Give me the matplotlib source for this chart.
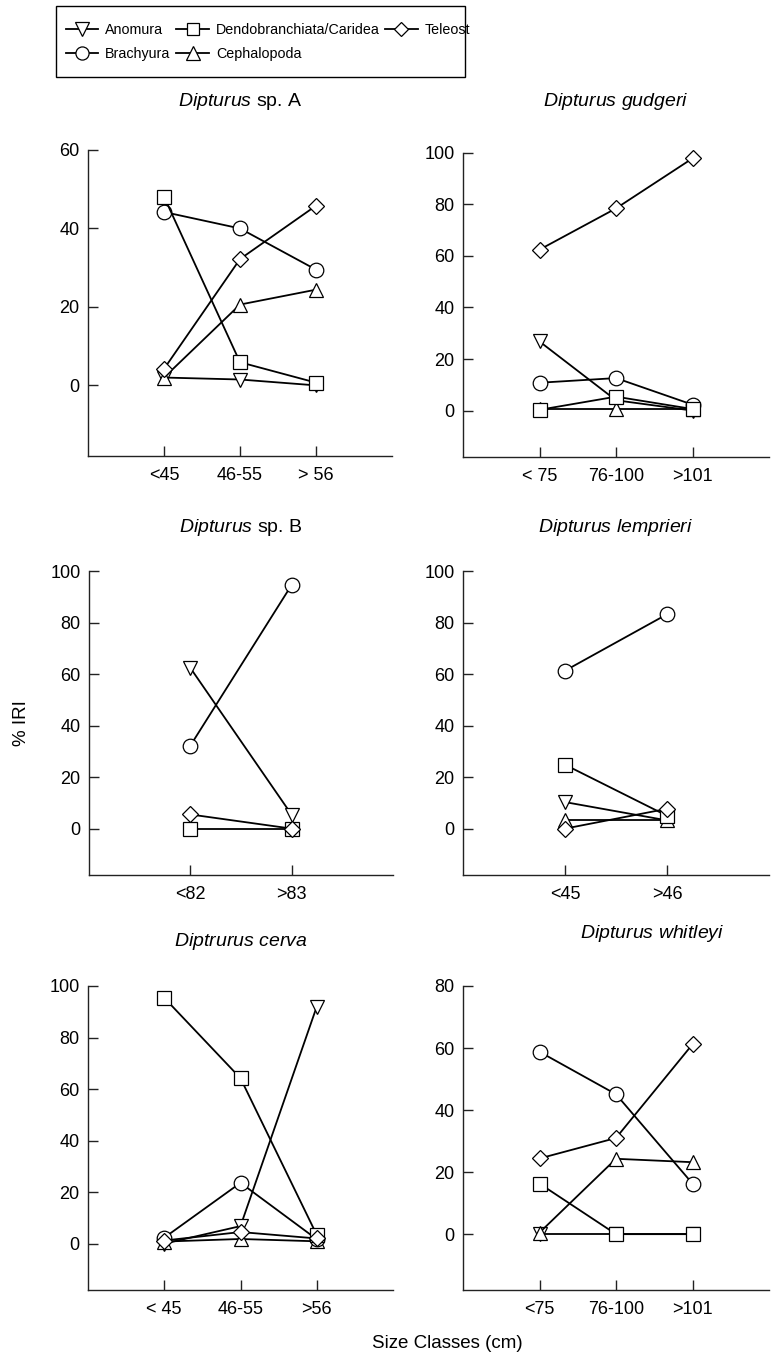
import matplotlib
matplotlib.use("Agg")
import matplotlib.pyplot as plt
from matplotlib.lines import Line2D
from matplotlib.patches import Rectangle
import numpy as np

plt.rcParams['font.family'] = ['Liberation Sans', 'DejaVu Sans']
plt.rcParams['mathtext.fontset'] = 'custom'
plt.rcParams['mathtext.it'] = 'Liberation Sans:italic'
plt.rcParams['mathtext.rm'] = 'Liberation Sans'

nan = np.nan

# ---- data ----
series_names = ["Anomura", "Brachyura", "Dendobranchiata/Caridea", "Cephalopoda", "Teleost"]

titles = [r"$\mathit{Dipturus}$ sp. A", r"$\mathit{Dipturus\ gudgeri}$",
          r"$\mathit{Dipturus}$ sp. B", r"$\mathit{Dipturus\ lemprieri}$",
          r"$\mathit{Diptrurus\ cerva}$", r"$\mathit{Dipturus\ whitleyi}$"]

classes_spA = ["<45", "46-55", "> 56"]
classes_gudgeri = ["< 75", "76-100", ">101"]
classes_spB = ["<82", ">83"]
classes_lemprieri = ["<45", ">46"]
classes_cerva = ["< 45", "46-55", ">56"]
classes_whitleyi = ["<75", "76-100", ">101"]

# values per panel: Anomura, Brachyura, Dendobranchiata/Caridea, Cephalopoda, Teleost
spA_anomura = [2.0, 1.5, 0.0]
spA_brachyura = [44.2, 40.0, 29.5]
spA_dendo = [48.1, 5.9, 0.7]
spA_cephalo = [2.0, 20.6, 24.4]
spA_teleost = [4.2, 32.2, 45.8]

gud_anomura = [26.8, 4.0, 0.0]
gud_brachyura = [10.8, 12.6, 2.3]
gud_dendo = [0.3, 5.4, 0.6]
gud_cephalo = [0.5, 0.5, 0.5]
gud_teleost = [62.4, 78.4, 97.8]

spB_anomura = [62.4, 5.4]
spB_brachyura = [32.2, 94.6]
spB_dendo = [0.0, 0.0]
spB_cephalo = [nan, nan]
spB_teleost = [5.5, 0.0]

lem_anomura = [10.3, 3.2]
lem_brachyura = [61.3, 83.2]
lem_dendo = [24.8, 5.0]
lem_cephalo = [3.2, 3.2]
lem_teleost = [0.0, 7.7]

cer_anomura = [0.0, 6.8, 92.0]
cer_brachyura = [2.3, 23.6, 1.7]
cer_dendo = [95.4, 64.2, 3.4]
cer_cephalo = [0.8, 1.8, 0.9]
cer_teleost = [1.2, 4.5, 2.0]

whi_anomura = [0.0, 0.0, 0.0]
whi_brachyura = [58.8, 45.1, 16.3]
whi_dendo = [16.3, 0.0, 0.0]
whi_cephalo = [0.5, 24.3, 23.2]
whi_teleost = [24.4, 31.0, 61.2]

panels = [
    (classes_spA, [spA_anomura, spA_brachyura, spA_dendo, spA_cephalo, spA_teleost], [0, 20, 40, 60]),
    (classes_gudgeri, [gud_anomura, gud_brachyura, gud_dendo, gud_cephalo, gud_teleost], [0, 20, 40, 60, 80, 100]),
    (classes_spB, [spB_anomura, spB_brachyura, spB_dendo, spB_cephalo, spB_teleost], [0, 20, 40, 60, 80, 100]),
    (classes_lemprieri, [lem_anomura, lem_brachyura, lem_dendo, lem_cephalo, lem_teleost], [0, 20, 40, 60, 80, 100]),
    (classes_cerva, [cer_anomura, cer_brachyura, cer_dendo, cer_cephalo, cer_teleost], [0, 20, 40, 60, 80, 100]),
    (classes_whitleyi, [whi_anomura, whi_brachyura, whi_dendo, whi_cephalo, whi_teleost], [0, 20, 40, 60, 80]),
]

# ---- styles ----
markers = ['v', 'o', 's', '^', 'D']
msizes = [10.5, 10.5, 9.5, 10.5, 7.8]
zorders = [3, 4, 5, 3.5, 6]

W, H = 772, 1356
fig = plt.figure(figsize=(W / 100, H / 100), dpi=100)

rects = [(88, 392, 150, 456), (463, 769, 152.7, 457),
         (89, 393, 571, 875), (463, 769, 571, 875),
         (88, 393, 986, 1290), (463, 769, 986, 1290)]
title_y = [101, 101, 527, 527, 942, 933]
title_dx = [0, 0, 0, 0, 0, 36]

for i, ((cls, vals, yt), (l, r, t, b)) in enumerate(zip(panels, rects)):
    ax = fig.add_axes([l / W, 1 - b / H, (r - l) / W, (b - t) / H])
    n = len(cls)
    x = np.arange(1, n + 1)
    for k, v in enumerate(vals):
        ax.plot(x, v, color='black', lw=1.3, marker=markers[k], ms=msizes[k],
                mfc='white', mec='black', mew=0.9, zorder=zorders[k], clip_on=False)
    ax.set_xlim(0, n + 1)
    ax.set_ylim(-18, yt[-1])
    ax.set_xticks(x)
    ax.set_xticklabels(cls)
    ax.set_yticks(yt)
    for s in ['top', 'right']:
        ax.spines[s].set_visible(False)
    for s in ['left', 'bottom']:
        ax.spines[s].set_color('#222222')
        ax.spines[s].set_linewidth(1.0)
    ax.tick_params(axis='both', direction='in', length=7, width=1.0, color='#222222', labelsize=13)
    ax.tick_params(axis='y', pad=6)
    ax.tick_params(axis='x', pad=8)
    cx = (l + r) / 2 + title_dx[i]
    fig.text(cx / W, 1 - title_y[i] / H, titles[i], ha='center', va='center', fontsize=14)

fig.text(22 / W, 1 - 723 / H, "% IRI", rotation=90, ha='center', va='center', fontsize=13.5)
fig.text(447 / W, 1 - 1344 / H, "Size Classes (cm)", ha='center', va='center', fontsize=13.5)

# legend: entries without frame, plus an explicit box
handles = [Line2D([], [], color='black', lw=1.3, marker=m, ms=ms * 0.9, mfc='white', mec='black', mew=0.9)
           for m, ms in zip(markers, msizes)]
leg = fig.legend(handles, series_names, ncol=3, loc='upper left',
                 bbox_to_anchor=(66 / W, 1 - 23 / H), fontsize=10.3,
                 frameon=False, handlelength=2.25, handletextpad=0.5, columnspacing=0.4,
                 labelspacing=0.72, borderpad=0, numpoints=1, borderaxespad=0)
fig.patches.append(Rectangle((56 / W, 1 - 77 / H), (465 - 56) / W, (77 - 6) / H,
                             transform=fig.transFigure, fill=False, edgecolor='black', lw=1.0))

fig.savefig("out.png", dpi=100)
